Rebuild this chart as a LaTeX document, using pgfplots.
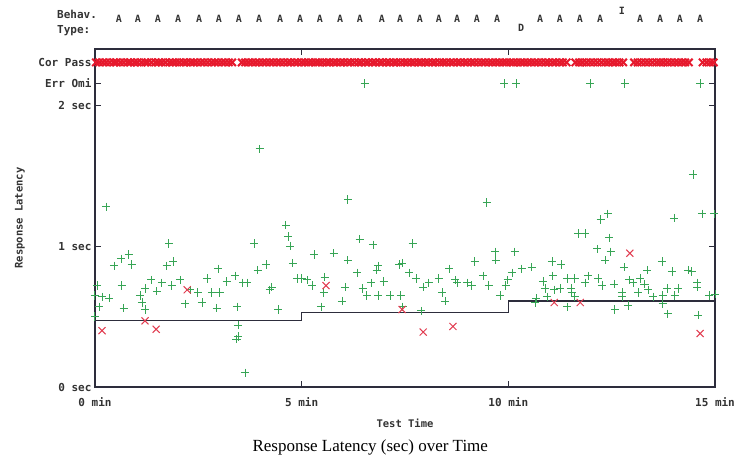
\documentclass[border=0pt]{standalone}
\usepackage{fontspec}
\setmainfont{Liberation Serif}
\newfontfamily\monofont{DejaVu Sans Mono}
\usepackage{pgfplots}
\pgfplotsset{compat=1.18}
\definecolor{pgreen}{RGB}{55,165,85}
\definecolor{pred}{RGB}{225,60,80}
\definecolor{bandred}{RGB}{230,25,45}
\definecolor{axisgray}{RGB}{45,45,60}
\begin{document}
\begin{tikzpicture}
\begin{axis}[
 scale only axis, width=620pt, height=338pt,
 xmin=0, xmax=15, ymin=0, ymax=2.4,
 clip=false,
 axis line style={axisgray, line width=1.2pt},
 xtick={0,5,10,15}, xticklabels={0 min,5 min,10 min,15 min},
 ytick={0,1,2,2.156,2.305}, yticklabels={0 sec,1 sec,2 sec,Err Omi,Cor Pass},
 tick align=inside, major tick length=6pt,
 tick style={axisgray, line width=1pt},
 ticklabel style={font=\monofont\bfseries\fontsize{11}{13}\selectfont, text=black!80},
 xticklabel style={yshift=-7pt},
 xlabel={Test Time}, ylabel={Response Latency},
 label style={font=\monofont\bfseries\fontsize{10.5}{12}\selectfont, text=black!80},
 xlabel style={at={(axis description cs:0.5,-0.107)}, anchor=center},
 ylabel style={at={(axis description cs:-0.121,0.5)}, anchor=center},
]
\coordinate (sw) at (rel axis cs:0,0);
% Cor Pass band
\addplot[only marks, mark=x, mark size=5.2pt, bandred, line width=2pt] coordinates {
(0.02,2.305)(0.1,2.305)(0.19,2.305)(0.27,2.305)(0.36,2.305)(0.45,2.305)(0.52,2.305)(0.61,2.305)(0.70,2.305)(0.79,2.305)
(0.86,2.305)(0.95,2.305)(1.03,2.305)(1.12,2.305)(1.21,2.305)(1.28,2.305)(1.37,2.305)(1.46,2.305)(1.54,2.305)(1.62,2.305)
(1.71,2.305)(1.80,2.305)(1.88,2.305)(1.96,2.305)(2.05,2.305)(2.14,2.305)(2.22,2.305)(2.31,2.305)(2.39,2.305)(2.47,2.305)
(2.56,2.305)(2.64,2.305)(2.73,2.305)(2.82,2.305)(2.90,2.305)(2.98,2.305)(3.07,2.305)(3.15,2.305)(3.24,2.305)(3.32,2.305)
(3.55,2.305)(3.63,2.305)(3.72,2.305)(3.80,2.305)(3.89,2.305)(3.97,2.305)(4.06,2.305)(4.14,2.305)(4.23,2.305)(4.31,2.305)
(4.40,2.305)(4.48,2.305)(4.57,2.305)(4.66,2.305)(4.74,2.305)(4.83,2.305)(4.91,2.305)(5.00,2.305)(5.08,2.305)(5.17,2.305)
(5.25,2.305)(5.34,2.305)(5.42,2.305)(5.51,2.305)(5.60,2.305)(5.68,2.305)(5.77,2.305)(5.85,2.305)(5.94,2.305)(6.02,2.305)
(6.11,2.305)(6.19,2.305)(6.28,2.305)(6.37,2.305)(6.45,2.305)(6.54,2.305)(6.62,2.305)(6.71,2.305)(6.79,2.305)(6.88,2.305)
(6.96,2.305)(7.05,2.305)(7.13,2.305)(7.22,2.305)(7.30,2.305)(7.39,2.305)(7.48,2.305)(7.56,2.305)(7.65,2.305)(7.73,2.305)
(7.82,2.305)(7.90,2.305)(7.99,2.305)(8.07,2.305)(8.16,2.305)(8.24,2.305)(8.33,2.305)(8.42,2.305)(8.50,2.305)(8.59,2.305)
(8.67,2.305)(8.76,2.305)(8.84,2.305)(8.93,2.305)(9.01,2.305)(9.10,2.305)(9.18,2.305)(9.27,2.305)(9.36,2.305)(9.44,2.305)
(9.53,2.305)(9.61,2.305)(9.70,2.305)(9.78,2.305)(9.87,2.305)(9.95,2.305)(10.04,2.305)(10.12,2.305)(10.21,2.305)(10.30,2.305)
(10.38,2.305)(10.47,2.305)(10.55,2.305)(10.64,2.305)(10.72,2.305)(10.81,2.305)(10.90,2.305)(10.98,2.305)(11.07,2.305)(11.15,2.305)
(11.24,2.305)(11.32,2.305)(11.41,2.305)(11.62,2.305)(11.71,2.305)(11.80,2.305)(11.89,2.305)(11.98,2.305)(12.07,2.305)(12.16,2.305)
(12.25,2.305)(12.34,2.305)(12.43,2.305)(12.52,2.305)(12.60,2.305)(12.69,2.305)(12.78,2.305)(13.04,2.305)(13.13,2.305)(13.22,2.305)
(13.31,2.305)(13.40,2.305)(13.49,2.305)(13.58,2.305)(13.67,2.305)(13.76,2.305)(13.85,2.305)(13.94,2.305)(14.03,2.305)(14.11,2.305)
(14.20,2.305)(14.28,2.305)(14.37,2.305)(14.70,2.305)(14.79,2.305)(14.88,2.305)(14.97,2.305)
};
% correct responses
\addplot[only marks, mark=+, mark size=4.2pt, pgreen, line width=1pt] coordinates {
(6.53,2.156)(9.90,2.156)(10.19,2.156)(11.98,2.156)(12.82,2.156)(14.64,2.156)
(0.27,1.28)(1.79,1.02)(0.63,0.91)(0.82,0.94)(0.46,0.86)(0.89,0.87)(1.89,0.89)(1.74,0.86)(2.98,0.84)(0.05,0.72)
(0.65,0.72)(1.36,0.76)(1.62,0.74)(1.86,0.72)(2.06,0.76)(1.21,0.70)(1.50,0.68)(2.71,0.77)(3.39,0.79)(3.19,0.75)
(3.58,0.74)(2.30,0.69)(2.49,0.67)(2.83,0.67)(3.02,0.67)(0.00,0.65)(0.17,0.64)(0.34,0.63)(1.09,0.65)(1.14,0.60)
(2.59,0.60)(2.18,0.59)(0.10,0.57)(0.70,0.56)(1.21,0.55)(2.95,0.56)(3.44,0.57)(0.00,0.50)(3.46,0.44)(3.46,0.36)
(3.42,0.34)(3.63,0.10)(3.99,1.69)
(6.12,1.33)(4.62,1.15)(4.67,1.07)(4.72,1.00)(3.85,1.02)(6.41,1.05)(6.73,1.01)(5.30,0.94)(5.78,0.95)(6.12,0.90)
(4.79,0.88)(3.94,0.83)(4.14,0.87)(6.85,0.86)(6.82,0.83)(7.36,0.87)(6.34,0.81)(4.89,0.77)(5.13,0.76)(5.56,0.78)
(5.25,0.72)(6.68,0.74)(6.99,0.75)(3.68,0.74)(4.28,0.71)(4.23,0.69)(6.05,0.71)(6.48,0.70)(5.54,0.67)(6.58,0.65)
(6.85,0.65)(7.14,0.65)(7.40,0.65)(5.98,0.61)(4.43,0.55)(5.47,0.57)(5.00,0.77)
(9.48,1.31)(7.69,1.02)(9.68,0.96)(10.16,0.96)(9.70,0.90)(9.19,0.89)(11.06,0.89)(7.43,0.88)(8.57,0.84)(7.60,0.81)
(10.57,0.85)(10.33,0.84)(10.09,0.81)(9.39,0.79)(11.08,0.79)(7.77,0.77)(8.32,0.77)(8.08,0.74)(8.71,0.76)(9.00,0.74)
(9.99,0.76)(7.94,0.71)(8.76,0.74)(9.12,0.72)(9.53,0.72)(9.94,0.72)(10.84,0.75)(10.89,0.70)(11.11,0.69)(8.40,0.67)
(9.80,0.65)(8.47,0.61)(10.67,0.63)(10.94,0.64)(7.45,0.57)(10.65,0.60)(7.89,0.54)
(14.47,1.51)(12.41,1.23)(12.24,1.19)(14.01,1.20)(14.69,1.23)(14.98,1.23)(11.69,1.09)(11.86,1.09)(12.44,1.06)(12.15,0.98)
(12.48,0.96)(12.34,0.90)(11.28,0.87)(12.80,0.85)(13.72,0.89)(13.36,0.83)(13.96,0.82)(14.35,0.83)(14.44,0.82)(11.93,0.79)
(11.42,0.77)(11.61,0.77)(12.17,0.77)(12.92,0.76)(13.19,0.77)(11.86,0.74)(12.27,0.72)(12.56,0.73)(13.02,0.74)(13.29,0.73)
(14.57,0.74)(11.25,0.70)(11.52,0.70)(13.38,0.69)(13.84,0.70)(14.11,0.70)(14.57,0.71)(11.54,0.67)(12.75,0.67)(13.14,0.67)
(13.74,0.65)(14.03,0.65)(14.86,0.65)(11.61,0.64)(12.75,0.64)(13.50,0.64)(11.42,0.57)(12.90,0.58)(13.74,0.59)(12.58,0.55)
(13.86,0.52)(14.59,0.51)(15.00,0.66)
};
% errors
\addplot[only marks, mark=x, mark size=5pt, pred, line width=1pt] coordinates {
(0.17,0.40)(1.21,0.47)(1.48,0.41)(2.23,0.69)(5.59,0.72)(7.43,0.55)(7.94,0.39)(8.66,0.43)(11.11,0.60)(11.74,0.60)(12.94,0.95)(14.64,0.38)
};
% threshold
\addplot[const plot, axisgray, line width=1.2pt] coordinates {(0,0.47)(5,0.53)(10,0.61)(15,0.61)};
% behaviour type row
\pgfplotsinvokeforeach{0.58,1.04,1.52,2.01,2.52,3.00,3.48,3.97,4.48,4.96,5.44,5.93,6.41,6.94,7.38,7.86,8.32,8.76,9.24,9.73,10.77,11.25,11.73,12.22,13.19,13.67,14.15,14.64}{
 \node[font=\monofont\bfseries\fontsize{10}{11}\selectfont, text=black!80] at (axis cs:#1,2.617) {A};
}
\node[font=\monofont\bfseries\fontsize{10}{11}\selectfont, text=black!80] at (axis cs:10.31,2.553) {D};
\node[font=\monofont\bfseries\fontsize{10}{11}\selectfont, text=black!80] at (axis cs:12.75,2.674) {I};
\node[font=\monofont\bfseries\fontsize{11}{12}\selectfont, text=black!80, anchor=west, inner sep=0pt] at (axis cs:-0.92,2.645) {Behav.};
\node[font=\monofont\bfseries\fontsize{11}{12}\selectfont, text=black!80, anchor=west, inner sep=0pt] at (axis cs:-0.92,2.532) {Type:};
\node[font=\fontsize{17}{20}\selectfont] at (axis description cs:0.444,-0.178) {Response Latency (sec) over Time};
\end{axis}
\pgfresetboundingbox
\path (sw) ++(-95pt,-72pt) rectangle ++(734pt,459pt);
\end{tikzpicture}
\end{document}
